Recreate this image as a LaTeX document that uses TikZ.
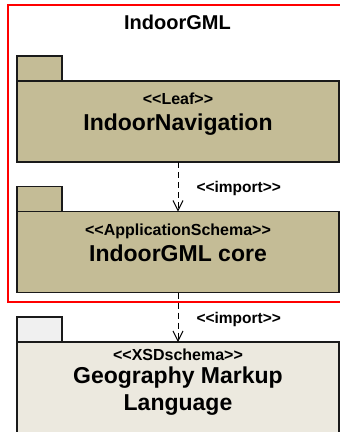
\documentclass[tikz,border=0pt]{standalone}
\usepackage{fontspec}
\setmainfont{Liberation Sans}
\usetikzlibrary{arrows.meta}
\definecolor{pkgtan}{HTML}{C4BC96}
\definecolor{pkglight}{HTML}{ECE9DF}
\definecolor{tablight}{HTML}{F0F0F0}
\definecolor{pkgline}{HTML}{1A1A1A}

\begin{document}
\begin{tikzpicture}[x=1pt,y=-1pt,
        pkg/.style={draw=pkgline,line width=1.5pt,inner sep=0pt,outer sep=0pt,minimum width=322pt,minimum height=81pt},
        tab/.style={draw=pkgline,line width=1.5pt,inner sep=0pt,outer sep=0pt,minimum width=45pt,minimum height=25pt,anchor=south west},
        stereo/.style={anchor=base,font=\bfseries\fontsize{16}{19}\selectfont},
        pname/.style={anchor=base,font=\bfseries\fontsize{23}{27}\selectfont},
        imp/.style={dash pattern=on 6pt off 4pt,line width=1pt,-{Straight Barb[length=10pt,width=10pt]}}]
        \clip(0,0)rectangle(340,432);
        \draw[red,line width=2pt](8,4.5)rectangle(360,301.5);
        \node[anchor=base,font=\bfseries\fontsize{20}{24}\selectfont](title)at(177.5,29){IndoorGML};

        \node[pkg,fill=pkgtan](nav)at(178,121.5){};
        \node[tab,fill=pkgtan](navtab)at(nav.north west){};
        \node[stereo](navst)at(178,104){<{}<Leaf>{}>};
        \node[pname](navname)at(178,130){IndoorNavigation};

        \node[pkg,fill=pkgtan](core)at(178,252){};
        \node[tab,fill=pkgtan](coretab)at(core.north west){};
        \node[stereo](corest)at(178,235){<{}<ApplicationSchema>{}>};
        \node[pname](corename)at(178,261.5){IndoorGML core};

        \node[pkg,fill=pkglight,minimum height=108pt](gml)at(178,396){};
        \node[tab,fill=tablight](gmltab)at(gml.north west){};
        \node[stereo](gmlst)at(178,360){<{}<XSDschema>{}>};
        \node[pname](gmlname)at(178,383.5){Geography Markup};
        \node[pname](gmlname2)at(178,410){Language};

        \draw[imp](nav.south)--(core.north);
        \node[anchor=base west,font=\bfseries\fontsize{15.5}{18}\selectfont](imp1)at(193,192){<{}<import>{}>};
        \draw[imp](core.south)--(gml.north);
        \node[anchor=base west,font=\bfseries\fontsize{15.5}{18}\selectfont](imp2)at(193,323){<{}<import>{}>};
    \end{tikzpicture}
\end{document}
